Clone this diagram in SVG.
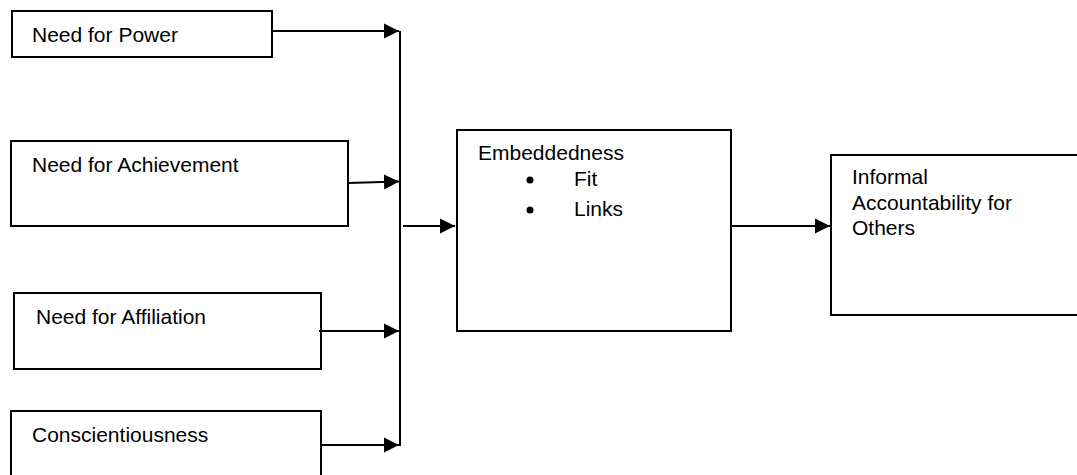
<svg xmlns="http://www.w3.org/2000/svg" width="1077" height="475" viewBox="0 0 1077 475">
<style>
.box{fill:#fff;stroke:#000;stroke-width:2}
.t{font-family:"Liberation Sans",Arial,sans-serif;font-size:21px;fill:#000}
.c{stroke:#000;stroke-width:2;fill:none}
</style>
<defs>
<marker id="ah" markerUnits="userSpaceOnUse" markerWidth="16" markerHeight="16" viewBox="0 0 16 16" refX="15" refY="8" orient="auto">
<path d="M0,0.5 L15,8 L0,15.5 Z" fill="#000"/>
</marker>
</defs>
<rect width="1077" height="475" fill="#fff"/>
<g id="power"><rect class="box" x="12" y="11" width="260" height="46"/><text class="t" x="32" y="42">Need for Power</text></g>
<g id="achievement"><rect class="box" x="11" y="141" width="337" height="85"/><text class="t" x="32" y="172">Need for Achievement</text></g>
<g id="affiliation"><rect class="box" x="14" y="293" width="307" height="76"/><text class="t" x="36" y="324">Need for Affiliation</text></g>
<g id="conscientiousness"><rect class="box" x="11" y="411" width="310" height="70"/><text class="t" x="32" y="442">Conscientiousness</text></g>
<g id="embeddedness"><rect class="box" x="457" y="130" width="274" height="201"/><text class="t" x="478" y="160">Embeddedness</text><circle cx="530" cy="180" r="3.5"/><text class="t" x="574" y="186">Fit</text><circle cx="530" cy="210" r="3.5"/><text class="t" x="574" y="216">Links</text></g>
<g id="informal"><rect class="box" x="831" y="155" width="260" height="160"/><text class="t" x="852" y="184">Informal</text><text class="t" x="852" y="210">Accountability for</text><text class="t" x="852" y="235">Others</text></g>
<g id="connectors">
<line class="c" x1="400" y1="31" x2="400" y2="446"/>
<line class="c" x1="272" y1="31" x2="399" y2="31" marker-end="url(#ah)"/>
<line class="c" x1="348" y1="183" x2="399" y2="181.5" marker-end="url(#ah)"/>
<line class="c" x1="319" y1="331" x2="399" y2="331" marker-end="url(#ah)"/>
<line class="c" x1="321" y1="445" x2="399" y2="445" marker-end="url(#ah)"/>
<line class="c" x1="403" y1="226" x2="455" y2="226" marker-end="url(#ah)"/>
<line class="c" x1="731" y1="226" x2="830" y2="226" marker-end="url(#ah)"/>
</g>
</svg>
